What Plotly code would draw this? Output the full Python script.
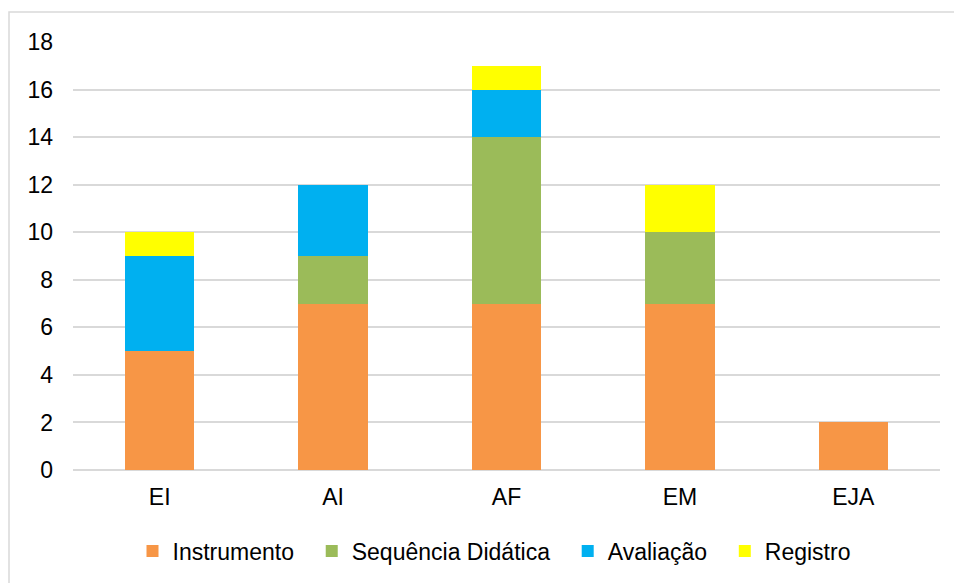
import plotly.graph_objects as go

categories = ["EI", "AI", "AF", "EM", "EJA"]
instrumento = [5, 7, 7, 7, 2]
sequencia = [0, 2, 7, 3, 0]
avaliacao = [4, 3, 2, 0, 0]
registro = [1, 0, 1, 2, 0]
y_ticks = [0, 2, 4, 6, 8, 10, 12, 14, 16, 18]

NB = "\u00a0\u00a0"
series = [
    ("Instrumento", instrumento, "#F79646", NB),
    ("Sequência Didática", sequencia, "#9BBB59", NB),
    ("Avaliação", avaliacao, "#00B0F0", NB),
    ("Registro", registro, "#FFFF00", ""),
]

fig = go.Figure()
for name, vals, color, pad in series:
    fig.add_trace(go.Bar(
        x=categories, y=vals, name=name + pad,
        marker=dict(color=color, line=dict(width=0)),
        hovertemplate=name + ": %{y}<extra></extra>",
    ))

W, H = 954, 583
L, R, T, B = 73, 14, 42, 112
pw = W - L - R
ph = H - T - B

def px_x(x):
    return (x - L) / pw

def px_y(y):
    return (H - B - y) / ph

FS = 23
fig.update_layout(
    width=W, height=H,
    barmode="stack", bargap=0.6,
    margin=dict(l=L, r=R, t=T, b=B),
    plot_bgcolor="white", paper_bgcolor="white",
    font=dict(family="Liberation Sans, Arial, sans-serif", size=FS, color="#000000"),
    showlegend=True,
    legend=dict(
        orientation="h", x=px_x(494), xanchor="center",
        y=px_y(551), yanchor="middle",
        font=dict(size=FS), traceorder="normal",
    ),
    xaxis=dict(
        showgrid=False, showline=False, ticks="",
        tickfont=dict(size=FS), ticklabelstandoff=11,
    ),
    yaxis=dict(
        range=[0, 18], tickvals=y_ticks, showgrid=True,
        gridcolor="#D9D9D9", gridwidth=1.5,
        zeroline=True, zerolinecolor="#D9D9D9", zerolinewidth=1.5,
        showline=False, ticks="", tickfont=dict(size=FS),
        ticklabelstandoff=19,
    ),
    shapes=[dict(
        type="rect", xref="paper", yref="paper",
        x0=px_x(9), x1=px_x(965), y0=px_y(595), y1=px_y(12),
        line=dict(color="#D9D9D9", width=1.5), fillcolor="rgba(0,0,0,0)",
        layer="below",
    )],
)

fig.write_html("out.html")
